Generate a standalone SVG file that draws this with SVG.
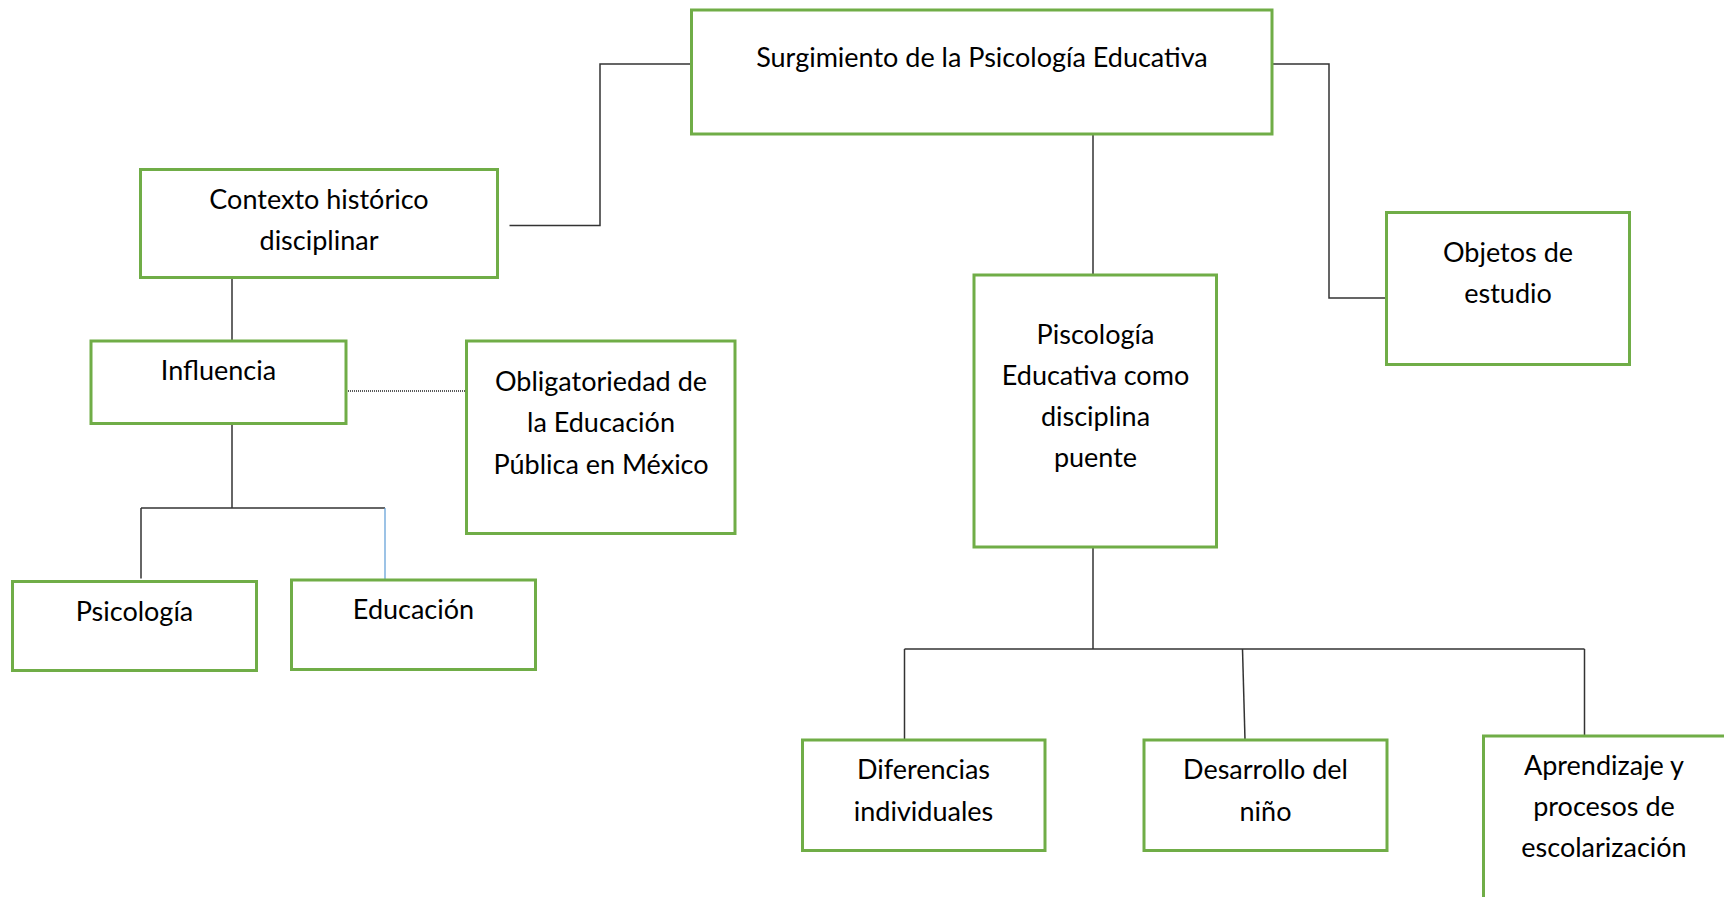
<svg xmlns="http://www.w3.org/2000/svg" width="1724" height="897" viewBox="0 0 1724 897">
<style>
.box{fill:#fff;stroke:#70AD47;stroke-width:3}
.t{font-family:Lato,"Liberation Sans",sans-serif;font-size:27px;fill:#000;text-anchor:middle}
.c{fill:none;stroke:#333;stroke-width:1.5}
.cb{fill:none;stroke:#5B9BD5;stroke-width:1.2}
.cd{fill:none;stroke:#222;stroke-width:1.3;stroke-dasharray:1 1}
</style>
<rect width="1724" height="897" fill="#fff"/>
<g id="connectors">
<polyline class="c" points="691.5,64 600,64 600,225.5 509.5,225.5"/>
<polyline class="c" points="1272,64 1329,64 1329,298 1386.5,298"/>
<line class="c" x1="1093" y1="134" x2="1093" y2="275"/>
<line class="c" x1="232" y1="277" x2="232" y2="341"/>
<line class="cd" x1="346" y1="391" x2="466" y2="391"/>
<line class="c" x1="232" y1="423.5" x2="232" y2="508"/>
<line class="c" x1="141" y1="508" x2="385" y2="508"/>
<line class="c" x1="141" y1="508" x2="141" y2="578.5"/>
<line class="cb" x1="385" y1="508" x2="385" y2="580"/>
<line class="c" x1="1093" y1="547" x2="1093" y2="649"/>
<line class="c" x1="904.5" y1="649" x2="1584.5" y2="649"/>
<line class="c" x1="904.5" y1="649" x2="904.5" y2="740"/>
<line class="c" x1="1242.5" y1="649" x2="1245" y2="740"/>
<line class="c" x1="1584.5" y1="649" x2="1584.5" y2="736"/>
</g>
<g id="surgimiento">
<rect class="box" x="691.5" y="10" width="580.5" height="124"/>
<text class="t" x="982" y="67">Surgimiento de la Psicología Educativa</text>
</g>
<g id="contexto">
<rect class="box" x="140.5" y="169.5" width="357" height="108"/>
<text class="t" x="319" y="208.5">Contexto histórico</text>
<text class="t" x="319" y="249.5">disciplinar</text>
</g>
<g id="influencia">
<rect class="box" x="91" y="341" width="255" height="82.5"/>
<text class="t" x="218.5" y="380">Influencia</text>
</g>
<g id="obligatoriedad">
<rect class="box" x="466.5" y="341" width="268.5" height="192.5"/>
<text class="t" x="601" y="391">Obligatoriedad de</text>
<text class="t" x="601" y="431.5">la Educación</text>
<text class="t" x="601" y="473.5">Pública en México</text>
</g>
<g id="psicologia">
<rect class="box" x="12.5" y="581.5" width="244" height="89"/>
<text class="t" x="134.5" y="621">Psicología</text>
</g>
<g id="educacion">
<rect class="box" x="291.5" y="580" width="244" height="89.5"/>
<text class="t" x="413.5" y="619">Educación</text>
</g>
<g id="piscologia">
<rect class="box" x="974" y="275" width="242.5" height="272"/>
<text class="t" x="1095.5" y="344">Piscología</text>
<text class="t" x="1095.5" y="385">Educativa como</text>
<text class="t" x="1095.5" y="426">disciplina</text>
<text class="t" x="1095.5" y="467">puente</text>
</g>
<g id="objetos">
<rect class="box" x="1386.5" y="212.5" width="243" height="152"/>
<text class="t" x="1508" y="261.5">Objetos de</text>
<text class="t" x="1508" y="303">estudio</text>
</g>
<g id="diferencias">
<rect class="box" x="802.5" y="740" width="242.5" height="110.5"/>
<text class="t" x="923.5" y="779">Diferencias</text>
<text class="t" x="923.5" y="820.5">individuales</text>
</g>
<g id="desarrollo">
<rect class="box" x="1144" y="740" width="243" height="110.5"/>
<text class="t" x="1265.5" y="779">Desarrollo del</text>
<text class="t" x="1265.5" y="820.5">niño</text>
</g>
<g id="aprendizaje">
<rect class="box" x="1483.5" y="736" width="244" height="170"/>
<text class="t" x="1604" y="775">Aprendizaje y</text>
<text class="t" x="1604" y="816">procesos de</text>
<text class="t" x="1604" y="857">escolarización</text>
</g>
</svg>
